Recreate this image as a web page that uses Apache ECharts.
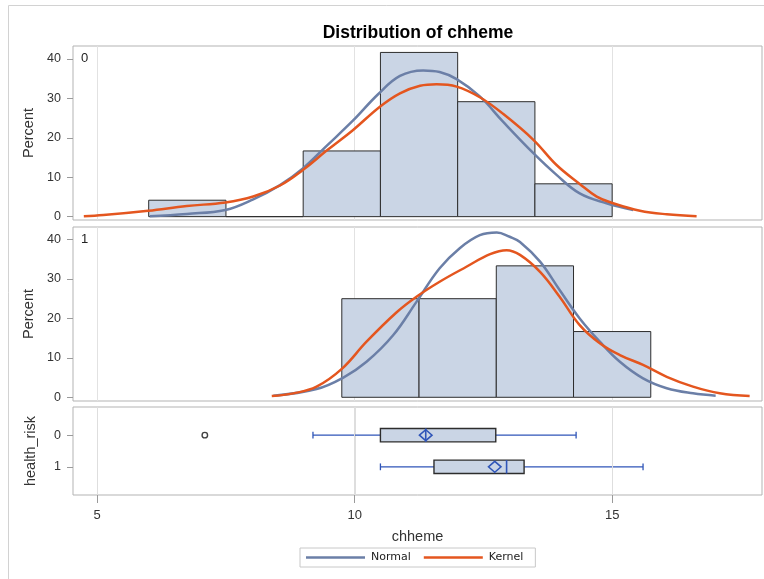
<!DOCTYPE html>
<html>
<head>
<meta charset="utf-8">
<script src="https://cdn.jsdelivr.net/npm/echarts@6/dist/echarts.min.js"></script>
<style>
html,body{margin:0;padding:0;background:#fff;}
#chart{width:764px;height:579px;}
</style>
</head>
<body>
<div id="chart"></div>
<script>
// ---------- data ----------
const xTicks = [5, 10, 15];
const pctTicks = [0, 10, 20, 30, 40];
const groups = ['0', '1'];

// histogram, health_risk = 0
const binEdges0 = [6, 7.5, 9, 10.5, 12, 13.5, 15];
const pct0 = [4.17, 0, 16.67, 41.67, 29.17, 8.33];
// histogram, health_risk = 1
const binEdges1 = [9.75, 11.25, 12.75, 14.25, 15.75];
const pct1 = [25, 25, 33.33, 16.67];

// fitted curves
const normal0X = [6.02, 6.74, 7.49, 8.03, 8.55, 9.0, 9.45, 9.97, 10.45, 10.88, 11.33, 11.65, 11.98, 12.43, 12.88, 13.47, 13.92, 14.37, 14.89, 15.41];
const normal0Y = [0.1, 0.7, 1.7, 4.4, 8.0, 12.3, 17.9, 24.4, 31.0, 35.7, 37.1, 36.7, 34.9, 30.5, 24.1, 16.1, 10.6, 5.9, 3.4, 1.7];
const kernel0X = [4.74, 5.12, 5.99, 6.74, 7.49, 8.03, 8.55, 9.0, 9.45, 9.97, 10.49, 10.88, 11.27, 11.59, 11.98, 12.43, 12.88, 13.47, 13.92, 14.37, 14.70, 15.02, 15.54, 16.06, 16.64];
const kernel0Y = [0.1, 0.4, 1.5, 2.7, 3.6, 5.1, 7.9, 11.9, 16.7, 22.0, 27.9, 31.3, 33.2, 33.6, 33.0, 30.3, 26.1, 19.5, 13.1, 8.3, 5.1, 3.4, 1.5, 0.6, 0.1];
const normal1X = [8.42, 9.26, 9.78, 10.23, 10.75, 11.20, 11.65, 12.04, 12.43, 12.76, 13.01, 13.21, 13.60, 13.98, 14.37, 14.76, 15.15, 15.60, 16.06, 16.57, 17.01];
const normal1Y = [0.4, 2.1, 5.0, 9.0, 15.8, 24.2, 32.7, 37.8, 41.1, 41.8, 40.7, 39.4, 34.4, 27.2, 20.0, 14.1, 9.0, 4.8, 2.3, 1.0, 0.4];
const kernel1X = [8.39, 8.81, 9.26, 9.75, 10.23, 10.81, 11.20, 11.65, 12.17, 12.63, 12.95, 13.21, 13.60, 13.98, 14.37, 14.76, 15.15, 15.60, 16.06, 16.57, 17.09, 17.67];
const kernel1Y = [0.3, 1.0, 2.7, 7.2, 14.1, 21.5, 25.5, 29.3, 33.1, 36.3, 37.3, 36.1, 31.8, 25.5, 18.3, 13.7, 10.7, 8.2, 5.2, 2.7, 1.0, 0.3];

// box plot per group
const boxLow = [9.19, 10.50];
const boxQ1 = [10.50, 11.54];
const boxMedian = [11.38, 12.95];
const boxQ3 = [12.74, 13.29];
const boxHigh = [14.30, 15.60];
const boxMean = [11.38, 12.72];
const outliers = [[7.09, 0]];

// ---------- helpers ----------
const FONT = 'Liberation Sans';
const pairs = (xs, ys) => xs.map((x, i) => [x, ys[i]]);
const bins = (edges, p) => p.map((v, i) => [edges[i], edges[i + 1], v]);

const X_MIN = 4.53, X_MAX = 17.91;
const BORDER = '#b3b3b3';
const GRIDLINE = '#e2e2e2';
const NORMAL_C = '#6b7fa7';
const KERNEL_C = '#e4561f';
const FILL = '#cad5e5';
const BOX_BLUE = '#2f55b8';
const BOX_Y_MIN = -0.89, BOX_Y_MAX = 1.89;

function xAxisCfg(gridIndex, showLabels) {
  return {
    type: 'value', gridIndex: gridIndex, min: X_MIN, max: X_MAX, position: 'bottom',
    axisLine: {show: false, onZero: false},
    axisTick: {show: showLabels, length: 8, lineStyle: {color: '#9a9a9a'}, customValues: xTicks},
    axisLabel: {show: showLabels, customValues: xTicks, margin: 14, color: '#333', fontSize: 13, fontFamily: FONT},
    splitLine: {show: true, lineStyle: {color: GRIDLINE, width: 1}},
    name: showLabels ? 'chheme' : '',
    nameLocation: 'middle', nameGap: 34,
    nameTextStyle: {fontSize: 14.5, color: '#333', fontFamily: FONT}
  };
}
function yAxisPct(gridIndex, min, max) {
  return {
    type: 'value', gridIndex: gridIndex, min: min, max: max,
    axisLine: {show: false, onZero: false},
    axisTick: {show: true, length: 6, lineStyle: {color: '#9a9a9a'}, customValues: pctTicks},
    axisLabel: {customValues: pctTicks, margin: 12, color: '#333', fontSize: 12.5, fontFamily: FONT},
    splitLine: {show: false},
    name: 'Percent', nameLocation: 'middle', nameGap: 35, nameRotate: 90,
    nameTextStyle: {fontSize: 14.5, color: '#333', fontFamily: FONT}
  };
}

function histRender(params, api) {
  const x0 = api.value(0), x1 = api.value(1), h = api.value(2);
  const a = api.coord([x0, h]);
  const b = api.coord([x1, 0]);
  return {
    type: 'rect',
    shape: {x: a[0], y: a[1], width: b[0] - a[0], height: b[1] - a[1]},
    style: {fill: FILL, stroke: '#2d2d2d', lineWidth: 1}
  };
}

function refLineRender(params, api) {
  const v = api.value(0);
  const t = api.coord([v, api.value(1)]);
  const b = api.coord([v, api.value(2)]);
  const x = Math.round(t[0]) + 0.5;
  return {type: 'rect', shape: {x: x - 0.5, y: Math.min(t[1], b[1]), width: 1, height: Math.abs(b[1] - t[1])},
    style: {fill: '#dedede', stroke: null}};
}

function boxRender(params, api) {
  const g = api.value(0);
  const lo = api.coord([api.value(1), g]);
  const q1 = api.coord([api.value(2), g]);
  const md = api.coord([api.value(3), g]);
  const q3 = api.coord([api.value(4), g]);
  const hi = api.coord([api.value(5), g]);
  const mn = api.coord([api.value(6), g]);
  const y = lo[1];
  const hb = 6.7, cap = 3.4, dw = 6.3, dh = 5.5;
  const blue = {stroke: BOX_BLUE, lineWidth: 1.3, fill: null};
  return {
    type: 'group',
    children: [
      {type: 'line', shape: {x1: lo[0], y1: y, x2: q1[0], y2: y}, style: blue},
      {type: 'line', shape: {x1: q3[0], y1: y, x2: hi[0], y2: y}, style: blue},
      {type: 'line', shape: {x1: lo[0], y1: y - cap, x2: lo[0], y2: y + cap}, style: blue},
      {type: 'line', shape: {x1: hi[0], y1: y - cap, x2: hi[0], y2: y + cap}, style: blue},
      {type: 'rect', shape: {x: q1[0], y: y - hb, width: q3[0] - q1[0], height: 2 * hb},
        style: {fill: FILL, stroke: '#2d2d2d', lineWidth: 1.4}},
      {type: 'line', shape: {x1: md[0], y1: y - hb, x2: md[0], y2: y + hb}, style: {stroke: BOX_BLUE, lineWidth: 1.6}},
      {type: 'polygon', shape: {points: [[mn[0] - dw, y], [mn[0], y - dh], [mn[0] + dw, y], [mn[0], y + dh]]},
        style: {fill: null, stroke: BOX_BLUE, lineWidth: 1.5}}
    ]
  };
}

const boxData = groups.map((g, i) => [i, boxLow[i], boxQ1[i], boxMedian[i], boxQ3[i], boxHigh[i], boxMean[i]]);

const lineStyleN = {color: NORMAL_C, width: 2.5};
const lineStyleK = {color: KERNEL_C, width: 2.5};

const option = {
  backgroundColor: '#fff',
  animation: false,
  title: {
    text: 'Distribution of chheme',
    left: 413, top: 19, textAlign: 'center',
    textStyle: {fontSize: 17.5, fontWeight: 'bold', color: '#000', fontFamily: FONT}
  },
  legend: {
    data: ['Normal', 'Kernel'],
    left: 300, top: 548,
    icon: 'rect',
    itemWidth: 59, itemHeight: 2.5, itemGap: 13,
    padding: [4, 12, 4, 6],
    borderColor: '#c8c8c8', borderWidth: 1,
    textStyle: {fontSize: 11, color: '#222', fontFamily: 'DejaVu Sans', padding: [0, 0, 0, 1]}
  },
  grid: [
    {left: 73, top: 46, width: 689, height: 174, show: true, borderColor: BORDER, borderWidth: 1, backgroundColor: 'transparent'},
    {left: 73, top: 227, width: 689, height: 174, show: true, borderColor: BORDER, borderWidth: 1, backgroundColor: 'transparent'},
    {left: 73, top: 407, width: 689, height: 88, show: true, borderColor: BORDER, borderWidth: 1, backgroundColor: 'transparent'}
  ],
  xAxis: [xAxisCfg(0, false), xAxisCfg(1, false), xAxisCfg(2, true)],
  yAxis: [
    yAxisPct(0, -0.85, 43.3),
    yAxisPct(1, -0.94, 43.18),
    {
      type: 'value', gridIndex: 2, min: BOX_Y_MIN, max: BOX_Y_MAX, inverse: true,
      axisLine: {show: false, onZero: false},
      axisTick: {show: true, length: 6, lineStyle: {color: '#9a9a9a'}, customValues: [0, 1]},
      axisLabel: {customValues: [0, 1], margin: 12, color: '#333', fontSize: 12.5, fontFamily: FONT,
        formatter: v => groups[Math.round(v)]},
      splitLine: {show: false},
      name: 'health_risk', nameLocation: 'middle', nameGap: 35, nameRotate: 90,
      nameTextStyle: {fontSize: 14.5, color: '#333', fontFamily: FONT}
    }
  ],
  graphic: [
    {type: 'rect', silent: true, z: -10, shape: {x: 8.5, y: 5.5, width: 800, height: 600},
      style: {fill: 'rgba(0,0,0,0)', stroke: '#d2d2d2', lineWidth: 1}},
    {type: 'text', left: 81, top: 52, silent: true,
      style: {text: groups[0], fontSize: 13, fill: '#222', fontFamily: FONT}},
    {type: 'text', left: 81, top: 233, silent: true,
      style: {text: groups[1], fontSize: 13, fill: '#222', fontFamily: FONT}}
  ],
  series: [
    {type: 'custom', name: 'refLines', xAxisIndex: 2, yAxisIndex: 2, renderItem: refLineRender,
      data: xTicks.map(v => [v, BOX_Y_MIN, BOX_Y_MAX]), encode: {x: 0, y: [1, 2]}, z: 1, silent: true, clip: false},
    {type: 'custom', name: 'hist0', xAxisIndex: 0, yAxisIndex: 0, renderItem: histRender,
      data: bins(binEdges0, pct0), encode: {x: [0, 1], y: 2}, z: 1, silent: true},
    {type: 'custom', name: 'hist1', xAxisIndex: 1, yAxisIndex: 1, renderItem: histRender,
      data: bins(binEdges1, pct1), encode: {x: [0, 1], y: 2}, z: 1, silent: true},
    {type: 'line', name: 'Normal', xAxisIndex: 0, yAxisIndex: 0, data: pairs(normal0X, normal0Y),
      symbol: 'none', smooth: 0.4, lineStyle: lineStyleN, itemStyle: {color: NORMAL_C}, z: 3},
    {type: 'line', name: 'Kernel', xAxisIndex: 0, yAxisIndex: 0, data: pairs(kernel0X, kernel0Y),
      symbol: 'none', smooth: 0.4, lineStyle: lineStyleK, itemStyle: {color: KERNEL_C}, z: 4},
    {type: 'line', name: 'Normal', xAxisIndex: 1, yAxisIndex: 1, data: pairs(normal1X, normal1Y),
      symbol: 'none', smooth: 0.4, lineStyle: lineStyleN, itemStyle: {color: NORMAL_C}, z: 3},
    {type: 'line', name: 'Kernel', xAxisIndex: 1, yAxisIndex: 1, data: pairs(kernel1X, kernel1Y),
      symbol: 'none', smooth: 0.4, lineStyle: lineStyleK, itemStyle: {color: KERNEL_C}, z: 4},
    {type: 'custom', name: 'box', xAxisIndex: 2, yAxisIndex: 2, renderItem: boxRender,
      data: boxData, encode: {x: [1, 2, 3, 4, 5, 6], y: 0}, z: 2, silent: true, clip: false},
    {type: 'scatter', name: 'outlier', xAxisIndex: 2, yAxisIndex: 2, data: outliers,
      symbol: 'circle', symbolSize: 5.5, itemStyle: {color: '#fff', borderColor: '#111', borderWidth: 1.4}, z: 5, silent: true,
      markLine: {silent: true, symbol: 'none', label: {show: false}, animation: false,
        lineStyle: {color: '#dedede', width: 1, type: 'solid'},
        data: xTicks.map(v => ({xAxis: v}))}}
  ]
};

const chart = echarts.init(document.getElementById('chart'), null, {renderer: 'canvas'});
chart.setOption(option);
</script>
</body>
</html>
